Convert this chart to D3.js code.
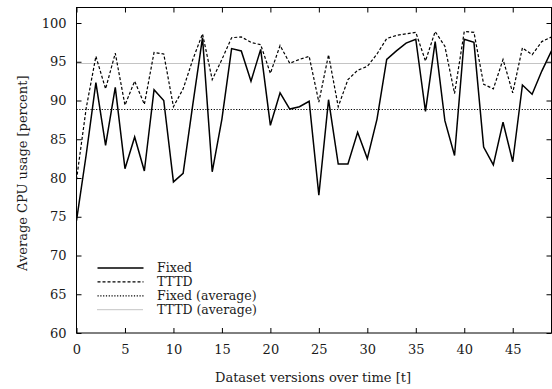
<!DOCTYPE html>
<html>
<head>
<meta charset="utf-8">
<script src="https://cdn.jsdelivr.net/npm/d3@7"></script>
<style>
  body { margin: 0; background: #fff; }
  text { font-family: "DejaVu Serif", "Liberation Serif", serif; fill: #1a1a1a; }
</style>
</head>
<body>
<div id="chart"></div>
<script>
  // values
  var fixed = [74.5, 83, 92.3, 84.2, 91.7, 81.2, 85.3, 80.9, 91.4, 90,
               79.5, 80.6, 89.5, 98.1, 80.8, 87.6, 96.7, 96.4, 92.5, 96.6,
               86.8, 91, 88.9, 89.2, 89.9, 77.8, 90.1, 81.8, 81.8, 85.9,
               82.5, 87.6, 95.3, 96.4, 97.4, 97.9, 88.6, 97.6, 87.4, 82.9,
               97.9, 97.5, 84, 81.7, 87.2, 82.1, 92, 90.8, 93.8, 96.4];

  var tttd = [79.8, 89, 95.7, 91.5, 96.1, 89.4, 92.5, 89.5, 96.2, 96,
              89.2, 91.5, 95.3, 98.6, 92.7, 95.3, 98.1, 98.2, 97.5, 97.2,
              93.5, 97.1, 94.8, 95.3, 95.7, 89.8, 95.9, 89.2, 92.7, 93.9,
              94.4, 96, 98, 98.4, 98.6, 98.8, 95.1, 98.9, 97, 90.9,
              98.9, 98.8, 92.1, 91.5, 95.3, 91, 96.8, 95.9, 97.6, 98.2];

  var fixedAvg = 88.9,
      tttdAvg = 94.9;

  var xTicks = [0, 5, 10, 15, 20, 25, 30, 35, 40, 45],
      yTicks = [60, 65, 70, 75, 80, 85, 90, 95, 100];

  var legendItems = [
    {label: "Fixed", dash: null, color: "#000", width: 1.5},
    {label: "TTTD", dash: "3,2", color: "#000", width: 1.2},
    {label: "Fixed (average)", dash: "1.2,1.6", color: "#000", width: 1.2},
    {label: "TTTD (average)", dash: "1,1", color: "#888", width: 1}
  ];

  var outerWidth = 552,
      outerHeight = 389,
      margin = { top: 7.5, right: 0.5, bottom: 56, left: 76.5 },
      width = outerWidth - margin.left - margin.right,
      height = outerHeight - margin.top - margin.bottom;

  var x = d3.scaleLinear().domain([0, 49]).range([0, width]);
  var y = d3.scaleLinear().domain([60, 102]).range([height, 0]);

  var line = d3.line()
      .x((_, i) => x(i))
      .y(d => y(d));

  // snap a horizontal line to the pixel grid
  var crisp = v => Math.round(y(v) + margin.top) - margin.top + 0.5;

  var svg = d3.select("#chart").append("svg")
      .attr("width", outerWidth)
      .attr("height", outerHeight)
    .append("g")
      .attr("transform", "translate(" + margin.left + "," + margin.top + ")");

  svg.append("clipPath").attr("id", "clip")
    .append("rect").attr("width", width).attr("height", height);

  // average lines
  svg.append("line")
      .attr("x1", 0).attr("x2", width)
      .attr("y1", crisp(tttdAvg)).attr("y2", crisp(tttdAvg))
      .attr("stroke", "#888").attr("stroke-width", 1)
      .attr("stroke-dasharray", "1,1");

  svg.append("line")
      .attr("x1", 0).attr("x2", width)
      .attr("y1", crisp(fixedAvg)).attr("y2", crisp(fixedAvg))
      .attr("stroke", "#000").attr("stroke-width", 1.2)
      .attr("stroke-dasharray", "1.2,1.6");

  var plot = svg.append("g").attr("clip-path", "url(#clip)");

  plot.append("path")
      .attr("fill", "none")
      .attr("stroke", "#000")
      .attr("stroke-width", 1.2)
      .attr("stroke-dasharray", "3,2")
      .attr("d", line(tttd));

  plot.append("path")
      .attr("fill", "none")
      .attr("stroke", "#000")
      .attr("stroke-width", 1.5)
      .attr("d", line(fixed));

  // axes, ticks point inward on all four sides
  svg.append("g")
      .attr("transform", `translate(0,${height})`)
      .call(d3.axisBottom(x).tickValues(xTicks).tickSizeInner(-5).tickSizeOuter(0).tickPadding(12))
      .call(g => g.select(".domain").remove());

  svg.append("g")
      .call(d3.axisTop(x).tickValues(xTicks).tickSizeInner(-5).tickSizeOuter(0).tickFormat(""))
      .call(g => g.select(".domain").remove());

  svg.append("g")
      .call(d3.axisLeft(y).tickValues(yTicks).tickSizeInner(-5).tickSizeOuter(0).tickPadding(10))
      .call(g => g.select(".domain").remove());

  svg.append("g")
      .attr("transform", `translate(${width},0)`)
      .call(d3.axisRight(y).tickValues(yTicks).tickSizeInner(-5).tickSizeOuter(0).tickFormat(""))
      .call(g => g.select(".domain").remove());

  svg.selectAll(".tick text")
      .attr("font-size", "13px")
      .attr("font-family", "DejaVu Serif, serif")
      .attr("fill", "#1a1a1a");

  svg.append("rect")
      .attr("width", width)
      .attr("height", height)
      .attr("fill", "none")
      .attr("stroke", "#000")
      .attr("stroke-width", 1);

  svg.append("text")
      .attr("x", width / 2 - 1)
      .attr("y", height + 49)
      .attr("text-anchor", "middle")
      .attr("font-size", "13px")
      .text("Dataset versions over time [t]");

  svg.append("text")
      .attr("transform", `translate(${-50},${height / 2 + 3}) rotate(-90)`)
      .attr("text-anchor", "middle")
      .attr("font-size", "13px")
      .text("Average CPU usage [percent]");

  // legend
  var legend = svg.append("g")
      .attr("transform", "translate(21,260)")
    .selectAll("g")
    .data(legendItems)
    .join("g")
      .attr("transform", (_, i) => `translate(0,${i * 13.9})`);

  legend.append("line")
      .attr("x1", 0).attr("x2", 46)
      .attr("y1", 0.5).attr("y2", 0.5)
      .attr("stroke", d => d.color)
      .attr("stroke-width", d => d.width)
      .attr("stroke-dasharray", d => d.dash);

  legend.append("text")
      .attr("x", 59.5)
      .attr("dy", "0.35em")
      .attr("font-size", "12.5px")
      .text(d => d.label);
</script>
</body>
</html>
